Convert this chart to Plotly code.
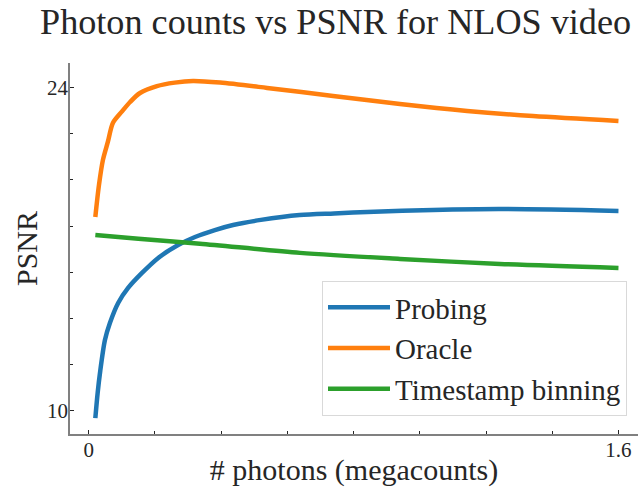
import plotly.graph_objects as go

# ---- data ----
x_probing = [0.02, 0.027, 0.034, 0.049, 0.064, 0.089, 0.119, 0.161, 0.210, 0.270,
             0.321, 0.381, 0.436, 0.520, 0.637, 0.741, 0.841, 1.040, 1.242, 1.6]
psnr_probing = [9.68, 10.77, 11.63, 13.06, 13.80, 14.67, 15.32, 15.97, 16.62, 17.18,
                17.53, 17.83, 18.05, 18.27, 18.48, 18.55, 18.61, 18.70, 18.74, 18.66]

x_oracle = [0.02, 0.031, 0.043, 0.058, 0.073, 0.100, 0.125, 0.155, 0.206, 0.260, 0.315,
            0.397, 0.539, 0.738, 0.940, 1.143, 1.342, 1.6]
psnr_oracle = [18.40, 19.78, 20.87, 21.66, 22.47, 22.96, 23.38, 23.77, 24.07, 24.22, 24.29,
               24.22, 23.99, 23.64, 23.29, 22.99, 22.77, 22.56]

x_binning = [0.02, 0.15, 0.336, 0.638, 0.940, 1.242, 1.6]
psnr_binning = [17.62, 17.45, 17.24, 16.84, 16.58, 16.36, 16.19]

series_names = ["Probing", "Oracle", "Timestamp binning"]
x_ticks = [0, 1.6]
x_ticktext = ["0", "1.6"]
y_ticks = [10, 24]
y_ticktext = ["10", "24"]

colors = ["#1f77b4", "#ff7f0e", "#2ca02c"]
FONT = "Liberation Serif, Times New Roman, serif"

fig = go.Figure()
for name, xs, ys, c in zip(series_names,
                           [x_probing, x_oracle, x_binning],
                           [psnr_probing, psnr_oracle, psnr_binning],
                           colors):
    fig.add_trace(go.Scatter(x=xs, y=ys, name=name, mode="lines",
                             line=dict(color=c, width=4.5, shape="spline", smoothing=0.8)))

fig.update_layout(
    width=638, height=487,
    margin=dict(l=70, r=0, t=63, b=53, autoexpand=False),
    paper_bgcolor="white", plot_bgcolor="white",
    font=dict(family=FONT, color="#262626"),
    title=dict(text="Photon counts vs PSNR for NLOS video",
               font=dict(family=FONT, size=36.2, color="#262626"),
               x=40 / 638, xanchor="left", xref="container",
               y=1 - 21 / 487, yanchor="middle", yref="container"),
    showlegend=True,
    legend=dict(x=(322 - 70) / 568, y=(434 - 281) / 371, xanchor="left", yanchor="top",
                font=dict(family=FONT, size=29, color="#262626"),
                bgcolor="white", bordercolor="#d9d9d9", borderwidth=1,
                itemwidth=62, tracegroupgap=0),
)

fig.update_xaxes(
    range=[-0.0565, 1.659], showgrid=False, zeroline=False,
    showline=True, linecolor="#808080", linewidth=1.5,
    tickmode="array", tickvals=x_ticks, ticktext=x_ticktext,
    ticks="inside", ticklen=4, tickcolor="#262626", tickwidth=1,
    tickfont=dict(family=FONT, size=21, color="#262626"),
    ticklabelstandoff=-4,
    minor=dict(dtick=0.2, tick0=0, ticks="inside", ticklen=3, tickcolor="#262626"),
    title=dict(text="# photons (megacounts)", font=dict(family=FONT, size=30, color="#262626"),
               standoff=6),
)
fig.update_yaxes(
    range=[8.99, 25.07], showgrid=False, zeroline=False,
    showline=True, linecolor="#808080", linewidth=1.5,
    tickmode="array", tickvals=y_ticks, ticktext=y_ticktext,
    ticks="inside", ticklen=4, tickcolor="#262626", tickwidth=1,
    tickfont=dict(family=FONT, size=21, color="#262626"),
    ticklabelstandoff=-4,
    minor=dict(dtick=2, tick0=0, ticks="inside", ticklen=3, tickcolor="#262626"),
    title=dict(text="PSNR", font=dict(family=FONT, size=30, color="#262626"), standoff=1),
)

fig.write_html("out.html")
